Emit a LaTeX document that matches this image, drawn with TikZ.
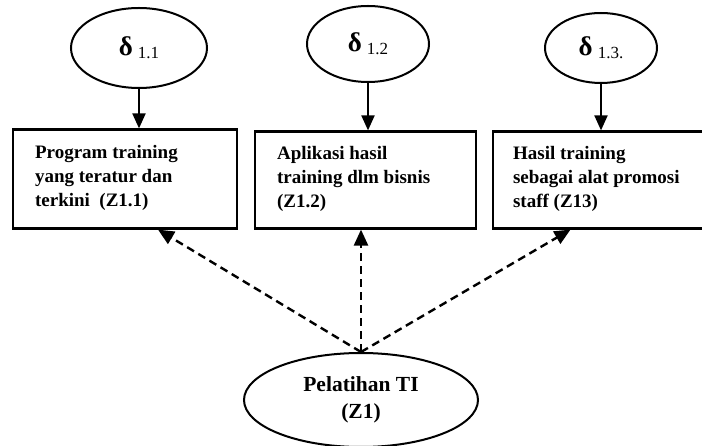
\documentclass[tikz,border=0pt]{standalone}
\usepackage{fontspec}
\setmainfont{Liberation Serif}
\usetikzlibrary{arrows.meta,calc,shapes.geometric}

\tikzset{
  errnode/.style={draw, line width=2pt, ellipse, minimum width=#1, inner sep=0pt},
  indicator/.style={draw, line width=2.2pt, rectangle, minimum width=221pt, minimum height=97pt, inner sep=0pt},
  boxtext/.style={anchor=north west, align=left, inner sep=0pt,
    font=\fontsize{19}{24}\selectfont\bfseries},
  latent/.style={draw, line width=2pt, ellipse, minimum width=234pt, minimum height=94pt, inner sep=0pt,
    align=center, font=\fontsize{21.5}{27}\selectfont\bfseries},
  loading/.style={line width=2pt, -{Triangle[length=15pt,width=13pt]}},
  path/.style={line width=2.4pt, dash pattern=on 8pt off 5pt, -{Triangle[length=16pt,width=14pt]}},
}
\newcommand{\errlabel}[1]{{\fontsize{27}{27}\selectfont\bfseries δ}\hspace{5pt}{\fontsize{17}{17}\selectfont\raisebox{-3pt}{#1}}}

\begin{document}
\begin{tikzpicture}[x=1pt,y=-1pt]
  \clip (0,0) rectangle (702,446);
  \fill[white] (0,0) rectangle (702,446);

  % error terms
  \node[errnode=136pt, minimum height=80pt] (e1) at (139,48) {\errlabel{1.1}};
  \node[errnode=122pt, minimum height=76pt] (e2) at (368,44) {\errlabel{1.2}};
  \node[errnode=112pt, minimum height=70pt] (e3) at (601,48) {\errlabel{1.3.}};

  % indicator boxes
  \node[indicator, minimum width=224pt, minimum height=99pt] (b1) at (125,179) {};
  \node[indicator] (b2) at (365.5,180) {};
  \node[indicator] (b3) at (603.5,180) {};

  \node[boxtext] (t1) at ([xshift=23pt,yshift=-17pt]b1.north west)
    {Program training\\yang teratur dan\\terkini~ (Z1.1)};
  \node[boxtext] (t2) at ([xshift=23pt,yshift=-16pt]b2.north west)
    {Aplikasi hasil\\training dlm bisnis\\(Z1.2)};
  \node[boxtext] (t3) at ([xshift=21pt,yshift=-16pt]b3.north west)
    {Hasil training\\sebagai alat promosi\\staff (Z13)};

  % latent variable
  \node[latent] (z) at (361,400) {Pelatihan TI\\(Z1)};

  % error arrows
  \draw[loading] (e1.south) -- (e1.south |- b1.north);
  \draw[loading] (e2.south) -- (e2.south |- b2.north);
  \draw[loading] (e3.south) -- (e3.south |- b3.north);

  % loadings from the latent variable
  \draw[path] (z.north) -- ([xshift=33pt]b1.south);
  \draw[path] (z.north) -- (z.north |- b2.south);
  \draw[path] (z.north) -- ([xshift=-33pt]b3.south);
\end{tikzpicture}
\end{document}
